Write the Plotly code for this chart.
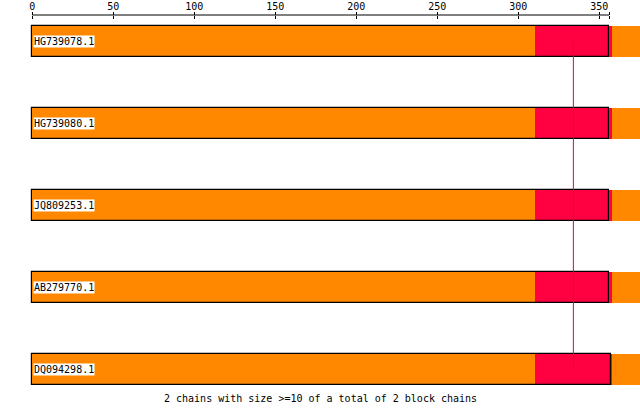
import plotly.graph_objects as go

# ---- data ----
sequences = ["HG739078.1", "HG739080.1", "JQ809253.1", "AB279770.1", "DQ094298.1"]
query_len = [356, 356, 356, 356, 357]
block1_start = [0, 0, 0, 0, 0]
block1_end = [310, 310, 310, 310, 310]
block2_start = [310, 310, 310, 310, 310]
block2_end = [358, 358, 358, 358, 358]
block3_start = [358, 358, 358, 358, 358]
block3_end = [420, 420, 420, 420, 420]
chain_x = 334
axis_ticks = [0, 50, 100, 150, 200, 250, 300, 350]
axis_end = 356
footer = "2 chains with size >=10 of a total of 2 block chains"

ORANGE = "#FF8800"
RED = "#FF0040"
FONT = "DejaVu Sans Mono"

W, H = 640, 410
LEFT = 28
ZERO_PX = 32.3
PX_PER_UNIT = 1.62
x_min = -(ZERO_PX - LEFT) / PX_PER_UNIT
x_max = (W - ZERO_PX) / PX_PER_UNIT
ROW_PX = 82
BAR_PX = 31
top = -41.0 / ROW_PX
bottom = top + H / ROW_PX
bar_w = BAR_PX / ROW_PX

ypos = list(range(len(sequences)))

fig = go.Figure()

# chain connector line (behind bars)
fig.add_trace(go.Scatter(
    x=[chain_x, chain_x], y=[ypos[0], ypos[-1]], mode="lines",
    line=dict(color="#E8003C", width=1), hoverinfo="skip", showlegend=False))

def seg(start, end, color, line_color=None, line_w=0):
    fig.add_trace(go.Bar(
        orientation="h", y=ypos,
        x=[e - s for s, e in zip(start, end)], base=start,
        width=bar_w,
        marker=dict(color=color, line=dict(color=line_color or color, width=line_w)),
        hoverinfo="skip", showlegend=False))

seg(block1_start, block1_end, ORANGE)
seg(block2_start, block2_end, RED)
seg(block3_start, block3_end, ORANGE)
# query outline
seg([0] * len(sequences), query_len, "rgba(0,0,0,0)", "black", 1.2)

# sequence labels
for name, y in zip(sequences, ypos):
    fig.add_annotation(x=0, y=y, xref="x", yref="y", text=name, showarrow=False,
                       xanchor="left", yanchor="middle", xshift=0.5,
                       font=dict(family=FONT, size=10, color="black"),
                       bgcolor="white", borderpad=0)

axis_y = 1 - 15 / H
# top axis line, only across the query length
fig.add_shape(type="line", xref="x", yref="paper", x0=0, x1=axis_end,
              y0=axis_y, y1=axis_y, line=dict(color="black", width=1))

fig.add_annotation(xref="paper", yref="paper", x=(W / 2 - LEFT) / (W - LEFT),
                   y=1 - 398 / H, text=footer, showarrow=False,
                   xanchor="center", yanchor="middle",
                   font=dict(family=FONT, size=10, color="black"))

fig.update_layout(
    width=W, height=H,
    margin=dict(l=LEFT, r=0, t=0, b=0),
    plot_bgcolor="white", paper_bgcolor="white",
    barmode="overlay", bargap=0,
    xaxis=dict(range=[x_min, x_max], side="top", anchor="free", position=axis_y,
               tickvals=axis_ticks + [axis_end],
               ticktext=[str(t) for t in axis_ticks] + [""],
               ticks="outside", ticklen=3, tickcolor="black", tickwidth=1,
               ticklabelstandoff=-2,
               showline=False, showgrid=False, zeroline=False,
               tickfont=dict(family=FONT, size=10, color="black")),
    xaxis2=dict(range=[x_min, x_max], overlaying="x", side="top", anchor="free",
                position=axis_y, tickvals=axis_ticks + [axis_end],
                showticklabels=False, ticks="inside", ticklen=3,
                tickcolor="black", tickwidth=1, showline=False,
                showgrid=False, zeroline=False),
    yaxis=dict(range=[bottom, top], visible=False, showgrid=False, zeroline=False),
)
# dummy trace to show xaxis2
fig.add_trace(go.Scatter(x=[0], y=[0], xaxis="x2", mode="markers",
                         marker=dict(opacity=0), hoverinfo="skip", showlegend=False))

fig.write_html("out.html")
